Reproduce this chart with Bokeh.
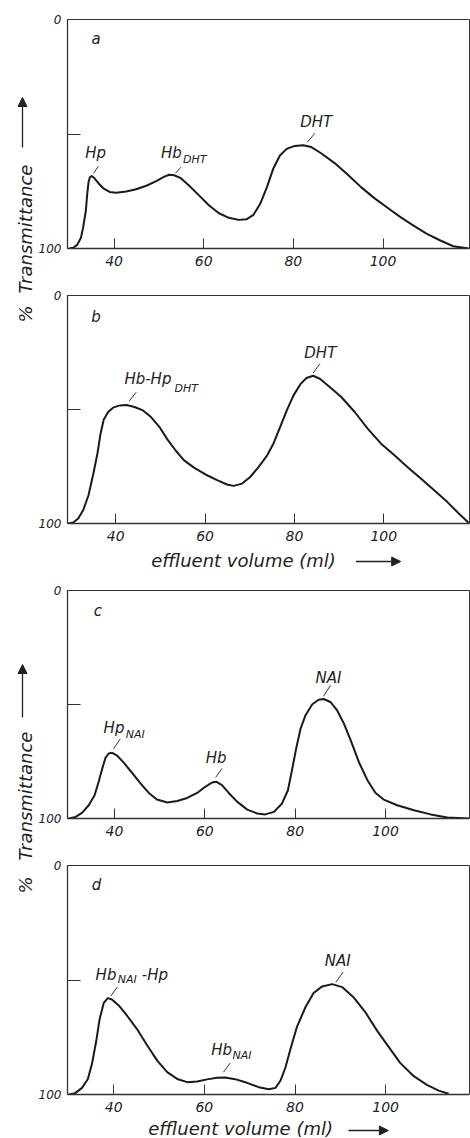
import math
from bokeh.plotting import figure
from bokeh.layouts import row, column
from bokeh.models import Range1d, FixedTicker, Arrow, NormalHead
from bokeh.embed import file_html
from bokeh.resources import INLINE
from bokeh.core.properties import value

FONT = "DejaVu Sans"
INK = "#222222"

# ---------------- data ----------------
# panel a : effluent volume (ml) / % transmittance
a_vol = [30.0, 30.9, 31.8, 32.6, 33.1, 33.7, 34.0, 34.3, 34.6, 35.0, 35.5, 36.5, 37.6, 39.0, 40.5, 42.7,
         44.9, 47.2, 49.4, 51.2, 52.3, 53.4, 54.9, 56.7, 59.0, 61.2, 63.4, 65.6, 67.8, 69.6, 71.1, 72.6,
         74.1, 75.5, 77.0, 78.5, 80.3, 82.2, 84.0, 86.2, 89.2, 92.1, 95.1, 98.0, 101.0, 103.9, 106.9,
         109.8, 112.8, 115.7, 119.1]
a_trans = [100.0, 99.7, 98.3, 95.3, 90.7, 83.4, 76.1, 71.0, 68.9, 68.4, 69.1, 71.5, 73.7, 75.3, 75.7, 75.1,
           74.1, 72.6, 70.6, 68.6, 67.8, 68.0, 69.3, 72.5, 76.9, 81.2, 84.6, 86.6, 87.5, 87.2, 85.3, 80.5,
           73.2, 65.2, 59.4, 56.5, 55.2, 54.9, 55.7, 58.4, 62.7, 67.7, 73.2, 77.9, 82.2, 86.3, 90.1,
           93.6, 96.5, 99.0, 100.0]
# panel b
b_vol = [29.4, 30.5, 31.6, 32.7, 33.9, 35.0, 35.9, 36.6, 37.3, 38.3, 39.4, 40.9, 42.4, 44.2, 46.1, 47.9,
         49.8, 51.6, 53.5, 55.3, 57.6, 60.1, 62.7, 64.9, 66.4, 68.3, 70.1, 72.0, 73.9, 75.3, 76.8, 78.3,
         79.8, 81.3, 82.7, 84.2, 85.7, 87.9, 90.5, 93.5, 96.4, 99.4, 102.4, 105.3, 108.3, 111.3, 114.2,
         116.8, 119.0]
b_trans = [100.0, 99.6, 97.8, 94.2, 87.6, 78.1, 69.3, 60.6, 54.5, 51.1, 49.2, 48.2, 48.0, 48.9, 50.4, 53.3,
           57.7, 63.2, 68.2, 72.3, 75.6, 78.5, 81.0, 82.9, 83.5, 82.5, 79.6, 75.2, 70.1, 65.0, 57.7, 50.4,
           43.8, 39.0, 36.2, 35.2, 36.5, 40.1, 44.5, 51.1, 58.4, 65.0, 70.1, 75.2, 80.3, 85.4, 90.5,
           95.6, 99.7]
# panel c
c_vol = [29.9, 31.4, 32.8, 34.3, 35.6, 36.5, 37.3, 38.0, 38.7, 39.5, 40.6, 42.1, 43.9, 45.8, 47.6, 49.4,
         51.7, 53.9, 56.1, 58.3, 60.1, 61.6, 62.6, 63.8, 65.3, 67.2, 69.4, 71.6, 73.4, 75.3, 77.1, 78.4,
         79.3, 80.3, 81.2, 82.3, 83.8, 85.2, 86.3, 87.8, 89.3, 90.8, 92.3, 94.1, 96.0, 97.8, 99.6, 102.6,
         106.3, 110.0, 113.7, 118.5]
c_trans = [100.0, 99.3, 97.5, 94.2, 89.8, 83.9, 78.1, 73.4, 71.5, 71.2, 72.4, 75.6, 80.0, 84.7, 88.8, 91.7,
           93.0, 92.3, 91.0, 88.8, 86.1, 84.2, 83.9, 85.4, 88.8, 92.7, 96.1, 97.8, 98.2, 97.1, 93.4, 87.6,
           78.8, 68.6, 60.6, 54.7, 49.9, 47.9, 47.6, 48.9, 52.6, 58.4, 65.7, 75.2, 83.2, 88.8, 91.7, 94.2,
           96.4, 98.2, 99.6, 100.0]
# panel d
d_vol = [30.1, 31.5, 33.0, 34.3, 35.2, 36.1, 36.9, 37.8, 38.7, 39.6, 41.1, 42.9, 45.1, 47.4, 49.6, 51.8,
         54.0, 56.2, 58.4, 60.6, 62.8, 64.6, 66.8, 69.4, 72.0, 74.2, 75.7, 76.8, 77.9, 79.0, 80.4, 82.3,
         84.1, 86.0, 88.2, 90.4, 92.9, 95.5, 98.1, 100.7, 103.2, 106.2, 109.1, 111.7, 113.9]
d_trans = [100.0, 99.4, 97.1, 93.2, 86.6, 77.1, 67.0, 60.0, 57.9, 58.5, 61.1, 65.5, 71.3, 78.6, 85.2, 90.2,
           93.2, 94.6, 94.3, 93.4, 92.7, 92.6, 93.3, 94.9, 96.8, 97.7, 97.1, 93.9, 88.1, 80.1, 70.6, 61.9,
           55.7, 52.8, 51.8, 53.1, 57.5, 64.0, 72.1, 79.3, 86.2, 92.0, 95.8, 98.3, 99.7]

x_ticks = [40, 60, 80, 100]
y_ticks = [0, 50, 100]
y_tick_labels = {0: "0", 50: "", 100: "100"}
x_label = "effluent volume (ml)"
y_label_parts = ["%", "Transmittance"]
panel_letters = ["a", "b", "c", "d"]

# peak annotations: (text, x, y, font size) and leader strokes (x0, y0, x1, y1)
ann_a = [("Hp", 35.9, 58.2, "15px"), ("Hb", 52.8, 58.2, "15px"), ("DHT", 58.0, 61.3, "11px"),
         ("DHT", 85.1, 44.8, "15px")]
lead_a = [(36.5, 64.1, 35.4, 67.2), (54.9, 64.5, 53.7, 67.1), (84.8, 49.7, 83.1, 53.6)]
ann_b = [("Hb-Hp", 47.2, 36.8, "15px"), ("DHT", 55.8, 40.9, "11px"), ("DHT", 85.8, 25.3, "15px")]
lead_b = [(44.6, 42.4, 43.0, 46.3), (85.7, 29.9, 84.2, 34.0)]
ann_c = [("Hp", 39.9, 60.4, "15px"), ("NAI", 44.6, 63.1, "11px"), ("Hb", 62.5, 73.3, "15px"),
         ("NAI", 87.4, 38.2, "15px")]
lead_c = [(41.3, 65.0, 39.8, 69.4), (63.8, 78.1, 62.4, 82.0), (87.8, 41.6, 86.3, 46.4)]
ann_d = [("Hb", 38.3, 47.6, "15px"), ("NAI", 43.0, 49.9, "11px"), ("-Hp", 49.1, 47.6, "15px"),
         ("Hb", 63.8, 80.5, "15px"), ("NAI", 68.3, 83.0, "11px"), ("NAI", 89.4, 41.8, "15px")]
lead_d = [(40.8, 53.1, 39.3, 57.1), (65.7, 86.2, 64.2, 90.3), (90.6, 46.6, 89.0, 51.0)]

STRIP_W = 35
PANEL_W = 470 - STRIP_W


def panel(height, top, bottom, left, xr, vol, trans, letter, letter_xy, anns, leads):
    p = figure(width=PANEL_W, height=height, x_range=Range1d(*xr), y_range=Range1d(100, 0),
               output_backend="svg", toolbar_location=None,
               min_border_left=left, min_border_right=1, min_border_top=top, min_border_bottom=bottom)
    p.grid.visible = False
    p.background_fill_color = "white"
    p.border_fill_color = "white"
    p.outline_line_color = "#333333"
    p.outline_line_width = 1

    xa = p.xaxis[0]
    xa.ticker = FixedTicker(ticks=x_ticks)
    xa.major_tick_in = 10
    xa.major_tick_out = 0
    xa.minor_tick_line_color = None
    xa.axis_line_color = "#333333"
    xa.axis_line_width = 1.3
    xa.major_tick_line_color = "#333333"
    xa.major_label_standoff = 7
    xa.major_label_text_font = FONT
    xa.major_label_text_font_style = "italic"
    xa.major_label_text_font_size = "14px"
    xa.major_label_text_color = INK

    ya = p.yaxis[0]
    ya.ticker = FixedTicker(ticks=y_ticks)
    ya.major_label_overrides = y_tick_labels
    ya.major_tick_in = 13
    ya.major_tick_out = 0
    ya.minor_tick_line_color = None
    ya.axis_line_color = "#333333"
    ya.axis_line_width = 1.3
    ya.major_tick_line_color = "#333333"
    ya.major_label_standoff = 6
    ya.major_label_text_font = FONT
    ya.major_label_text_font_style = "italic"
    ya.major_label_text_font_size = "12px"
    ya.major_label_text_color = INK

    p.line(vol, trans, line_color="#1a1a1a", line_width=2, line_join="round")

    p.text(x=[letter_xy[0]], y=[letter_xy[1]], text=[letter], text_font=value(FONT),
           text_font_style="italic", text_font_size="15px", text_align="center",
           text_baseline="middle", text_color=INK)

    for t, x, y, s in anns:
        p.text(x=[x], y=[y], text=[t], text_font=value(FONT), text_font_style="italic",
               text_font_size=s, text_align="center", text_baseline="middle", text_color=INK)
    p.segment(x0=[l[0] for l in leads], y0=[l[1] for l in leads],
              x1=[l[2] for l in leads], y1=[l[3] for l in leads], line_color="#333333", line_width=1)
    return p


def xlabel_fig(height, left, xr, tx, ty, ax0, ax1, ay):
    f = figure(width=PANEL_W, height=height, x_range=Range1d(*xr), y_range=Range1d(height, 0),
               output_backend="svg", toolbar_location=None, x_axis_type=None, y_axis_type=None,
               min_border_left=left, min_border_right=1, min_border_top=0, min_border_bottom=0)
    f.grid.visible = False
    f.outline_line_color = None
    f.text(x=[tx], y=[ty], text=[x_label], text_font=value(FONT), text_font_style="italic",
           text_font_size="18px", text_align="center", text_baseline="middle", text_color=INK)
    f.add_layout(Arrow(end=NormalHead(size=9, fill_color=INK, line_color=INK),
                       x_start=ax0, y_start=ay, x_end=ax1, y_end=ay, line_color=INK, line_width=1.3))
    return f


XR_A = (29.6, 119.3)
XR_B = (29.2, 119.2)
XR_C = (29.6, 118.6)
XR_D = (29.8, 118.5)

pa = panel(275, 19, 27, 29, XR_A, a_vol, a_trans, panel_letters[0], (36.0, 8.7), ann_a, lead_a)
pb = panel(273, 20, 25, 29, XR_B, b_vol, b_trans, panel_letters[1], (35.6, 9.5), ann_b, lead_b)
xb = xlabel_fig(25, 29, XR_B, 68.6, 12, 93.8, 103.8, 13)
pc = panel(272, 17, 27, 32, XR_C, c_vol, c_trans, panel_letters[2], (36.3, 8.8), ann_c, lead_c)
pd = panel(274, 20, 25, 32, XR_D, d_vol, d_trans, panel_letters[3], (36.2, 8.7), ann_d, lead_d)
xd = xlabel_fig(19, 32, XR_D, 68.0, 9, 91.8, 100.6, 11)

H = 275 + 273 + 25 + 272 + 274 + 19
strip = figure(width=STRIP_W, height=H, x_range=Range1d(0, STRIP_W), y_range=Range1d(H, 0),
               output_backend="svg", toolbar_location=None, x_axis_type=None, y_axis_type=None,
               min_border_left=0, min_border_right=0, min_border_top=0, min_border_bottom=0)
strip.grid.visible = False
strip.outline_line_color = None
# "%" and "Transmittance" for the upper pair (a, b) and the lower pair (c, d)
strip.text(x=[24.5, 24.5, 24.5, 24.5], y=[322, 293, 893, 860],
           text=[y_label_parts[0], y_label_parts[1], y_label_parts[0], y_label_parts[1]],
           angle=math.pi / 2, text_font=value(FONT), text_font_style="italic",
           text_font_size="18px", text_align="left", text_baseline="middle", text_color=INK)
for y0, y1 in [(147, 97), (717, 664)]:
    strip.add_layout(Arrow(end=NormalHead(size=9, fill_color=INK, line_color=INK),
                           x_start=22, y_start=y0, x_end=22, y_end=y1,
                           line_color=INK, line_width=1.3))

layout = row(strip, column(pa, pb, xb, pc, pd, xd))
open("out.html", "w").write(file_html(layout, INLINE))
